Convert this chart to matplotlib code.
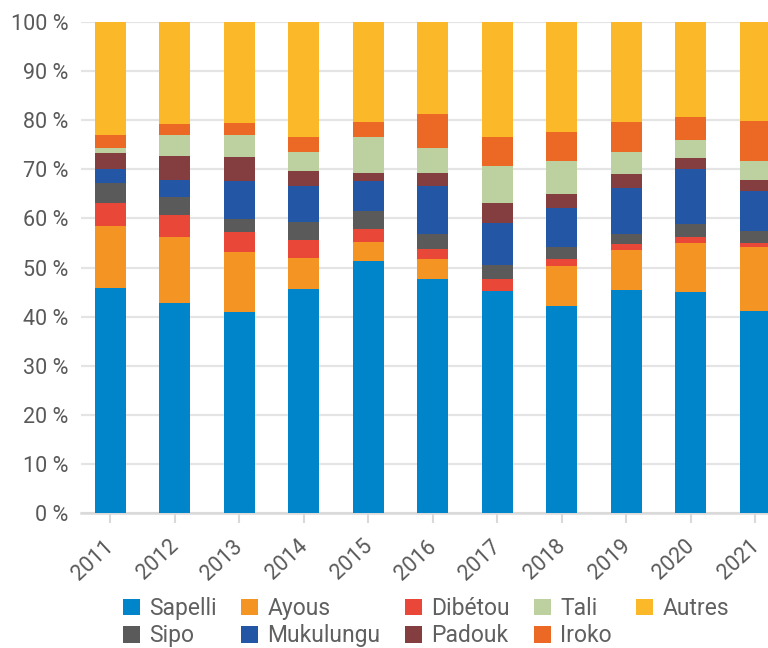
# Stacked 100 % bar chart of species shares per year

import numpy as np
import matplotlib.pyplot as plt
from matplotlib.transforms import ScaledTranslation

plt.rcParams['font.family'] = ['Roboto', 'DejaVu Sans']

years = ['2011', '2012', '2013', '2014', '2015', '2016', '2017', '2018', '2019', '2020', '2021']

# shares in % (bottom to top)
sapelli   = [45.9, 42.8, 41.0, 45.6, 51.4, 47.7, 45.2, 42.2, 45.4, 45.0, 41.2]
ayous     = [12.6, 13.5, 12.2,  6.4,  3.8,  4.1,  0.0,  8.1,  8.2, 10.0, 13.0]
dibetou   = [ 4.7,  4.4,  4.1,  3.6,  2.7,  2.0,  2.5,  1.5,  1.2,  1.3,  0.8]
sipo      = [ 4.1,  3.7,  2.6,  3.7,  3.7,  3.1,  2.8,  2.4,  2.1,  2.6,  2.5]
mukulungu = [ 2.8,  3.5,  7.8,  7.2,  6.1,  9.8,  8.5,  8.0,  9.2, 11.1,  8.0]
padouk    = [ 3.3,  4.9,  4.9,  3.2,  1.6,  2.6,  4.2,  2.8,  3.0,  2.2,  2.4]
tali      = [ 1.0,  4.1,  4.3,  3.9,  7.2,  5.1,  7.5,  6.6,  4.5,  3.7,  3.7]
iroko     = [ 2.5,  2.4,  2.6,  2.9,  3.2,  6.8,  5.8,  5.9,  6.1,  4.8,  8.3]
autres    = [23.1, 20.7, 20.5, 23.5, 20.3, 18.8, 23.5, 22.5, 20.3, 19.3, 20.1]

names = ['Sapelli', 'Ayous', 'Dibétou', 'Sipo', 'Mukulungu', 'Padouk', 'Tali', 'Iroko', 'Autres']
series = [sapelli, ayous, dibetou, sipo, mukulungu, padouk, tali, iroko, autres]
colors = ['#0084CA', '#F39423', '#E94738', '#5A5A5A', '#2356A4', '#853E3F', '#BDD1A0', '#EB6825', '#FBB829']

fig = plt.figure(figsize=(7.68, 6.48), dpi=100)
ax = fig.add_axes([81/768, 135/648, 1 - 81/768, (513-22)/648])

x = np.arange(len(years))
bottom = np.zeros(len(years))
bars = {}
for name, vals, c in zip(names, series, colors):
    vals = np.array(vals)
    bars[name] = ax.bar(x, vals, 0.48, bottom=bottom, color=c, label=name, zorder=3)
    bottom += vals

ax.set_xlim(-0.45, 10.2)
ax.set_ylim(0, 100)
ax.set_yticks(range(0, 101, 10))
ax.set_yticklabels([f'{v} %' for v in range(0, 101, 10)])
ax.set_xticks(x)
ax.set_xticklabels(years, rotation=43, ha='right', va='center', rotation_mode='anchor')
ax.yaxis.grid(True, color='#e4e4e4', lw=1.6, zorder=0)
for s in ['top', 'right', 'left']:
    ax.spines[s].set_visible(False)
ax.spines['bottom'].set_color('#d9d9d9')
ax.spines['bottom'].set_linewidth(1.8)
ax.tick_params(axis='y', length=0, pad=9, labelsize=15.5, labelcolor='#595959')
ax.tick_params(axis='x', length=7, width=1.5, color='#d9d9d9', pad=15,
               labelsize=15.5, labelcolor='#595959')
shift = ScaledTranslation(1/100, 0, fig.dpi_scale_trans)
for lab in ax.get_xticklabels():
    lab.set_transform(lab.get_transform() + shift)

# legend in rows: matplotlib fills columns, so reorder
order = ['Sapelli', 'Sipo', 'Ayous', 'Mukulungu', 'Dibétou', 'Padouk', 'Tali', 'Iroko', 'Autres']
leg = fig.legend([bars[n] for n in order], order, ncol=5, loc='upper center',
                 bbox_to_anchor=(426/768, 1 - 597/648), frameon=False, fontsize=16.5,
                 handlelength=0.75, handleheight=0.75, handletextpad=0.4,
                 columnspacing=1.05, labelspacing=0.18, borderaxespad=0, borderpad=0)
for t in leg.get_texts():
    t.set_color('#606060')

plt.savefig('out.png', dpi=100)
